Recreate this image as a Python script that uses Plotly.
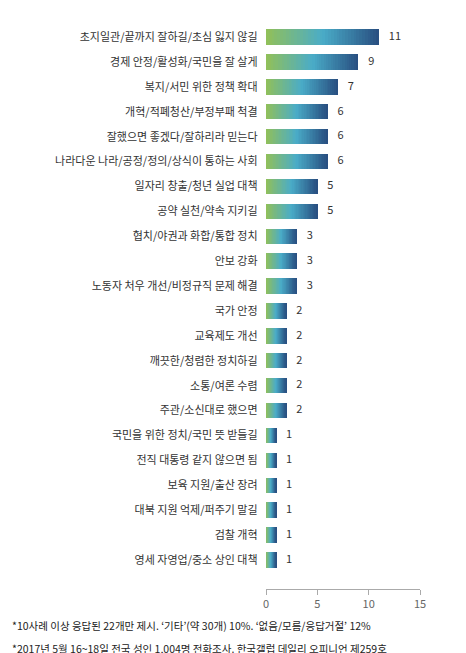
import plotly.graph_objects as go

categories = ["초지일관/끝까지 잘하길/초심 잃지 않길", "경제 안정/활성화/국민을 잘 살게", "복지/서민 위한 정책 확대",
              "개혁/적폐청산/부정부패 척결", "잘했으면 좋겠다/잘하리라 믿는다", "나라다운 나라/공정/정의/상식이 통하는 사회",
              "일자리 창출/청년 실업 대책", "공약 실천/약속 지키길", "협치/야권과 화합/통합 정치", "안보 강화",
              "노동자 처우 개선/비정규직 문제 해결", "국가 안정", "교육제도 개선", "깨끗한/청렴한 정치하길",
              "소통/여론 수렴", "주관/소신대로 했으면", "국민을 위한 정치/국민 뜻 받들길", "전직 대통령 같지 않으면 됨",
              "보육 지원/출산 장려", "대북 지원 억제/퍼주기 말길", "검찰 개혁", "영세 자영업/중소 상인 대책"]
values = [11, 9, 7, 6, 6, 6, 5, 5, 3, 3, 3, 2, 2, 2, 2, 2, 1, 1, 1, 1, 1, 1]
x_ticks = [0, 5, 10, 15]

N = 40
stops = [(0.0, (146, 192, 88)), (0.5, (74, 172, 200)), (1.0, (40, 78, 128))]
def col(t):
    for (a, ca), (b, cb) in zip(stops, stops[1:]):
        if t <= b:
            f = (t - a) / (b - a)
            return "rgb(%d,%d,%d)" % tuple(round(ca[i] + (cb[i] - ca[i]) * f) for i in range(3))
    return "rgb(%d,%d,%d)" % stops[-1][1]

fig = go.Figure()
for k in range(N):
    fig.add_trace(go.Bar(y=categories, x=[v / N for v in values], orientation="h",
                         marker=dict(color=col((k + 0.5) / N), line=dict(width=0)),
                         showlegend=False, hoverinfo="skip"))
fig.add_trace(go.Scatter(y=categories, x=values, mode="text", text=["    " + str(v) for v in values],
                         textposition="middle right", textfont=dict(size=11, color="#333"),
                         showlegend=False, cliponaxis=False))
fig.update_layout(
    width=466, height=653, barmode="stack", bargap=0.38,
    margin=dict(l=258, r=54, t=0, b=72),
    plot_bgcolor="white", paper_bgcolor="white",
    font=dict(family="Noto Sans CJK KR", size=11, color="#333"),
    xaxis=dict(range=[0, 15], tickvals=x_ticks, showgrid=False, zeroline=False,
               showline=True, linecolor="#aaa", ticks="outside", tickcolor="#aaa", ticklen=5,
               tickfont=dict(color="#666", size=11)),
    yaxis=dict(autorange="reversed", showgrid=False, ticks="", ticksuffix="   "),
)
fig.add_annotation(text="*10사례 이상 응답된 22개만 제시. ‘기타’(약 30개) 10%. ‘없음/모름/응답거절’ 12%",
                   x=0, xref="paper", xanchor="left", xshift=-256, y=-0.062, yref="paper",
                   yanchor="middle", showarrow=False, font=dict(size=10.5, color="#222"))
fig.add_annotation(text="*2017년 5월 16~18일 전국 성인 1,004명 전화조사. 한국갤럽 데일리 오피니언 제259호",
                   x=0, xref="paper", xanchor="left", xshift=-256, y=-0.102, yref="paper",
                   yanchor="middle", showarrow=False, font=dict(size=10.5, color="#222"))
fig.write_html("out.html")
